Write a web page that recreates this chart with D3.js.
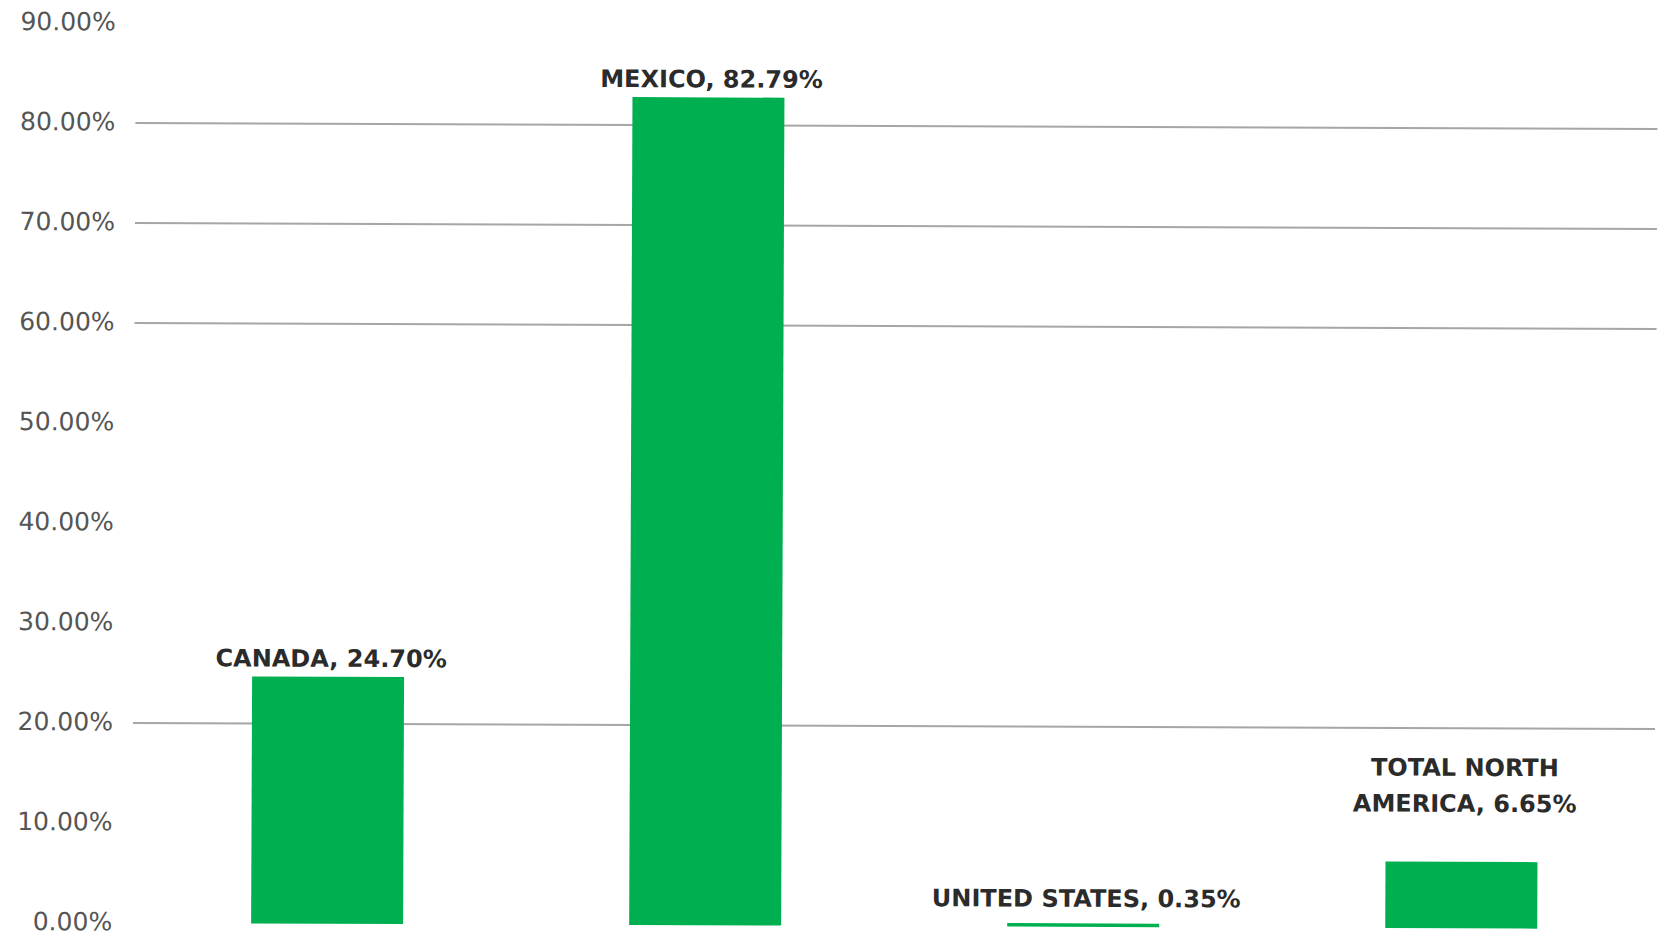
<!DOCTYPE html>
<html>
<head>
<meta charset="utf-8">
<script src="https://cdn.jsdelivr.net/npm/d3@7"></script>
<style>
  html, body { margin: 0; padding: 0; background: #ffffff; }
  svg { display: block; }
</style>
</head>
<body>
<svg id="chart" width="1660" height="935"></svg>
<script>
// Share of each region, as a fraction
const categories = ["CANADA", "MEXICO", "UNITED STATES", "TOTAL NORTH AMERICA"];
const values = [0.2470, 0.8279, 0.0035, 0.0665];
const valueLabels = ["24.70%", "82.79%", "0.35%", "6.65%"];
// Label lines for each bar (long names wrap onto two lines)
const labelLines = [
  ["CANADA, 24.70%"],
  ["MEXICO, 82.79%"],
  ["UNITED STATES, 0.35%"],
  ["TOTAL NORTH", "AMERICA, 6.65%"]
];
const tickValues = [0, 0.1, 0.2, 0.3, 0.4, 0.5, 0.6, 0.7, 0.8, 0.9];
const tickLabels = ["0.00%", "10.00%", "20.00%", "30.00%", "40.00%", "50.00%", "60.00%", "70.00%", "80.00%", "90.00%"];
const gridValues = [0.2, 0.6, 0.7, 0.8];

const W = 1660, H = 935;
const plot = { left: 135, right: 1657, top: 25.8, bottom: 925.8 };

const svg = d3.select("#chart");
// the whole chart sits very slightly tilted
const root = svg.append("g").attr("transform", `rotate(0.23, ${W / 2}, ${H / 2})`);

const x = d3.scaleBand()
  .domain(categories)
  .range([plot.left, plot.right])
  .paddingInner(0.598)
  .paddingOuter(0.312);

const y = d3.scaleLinear()
  .domain([0, 0.9])
  .range([plot.bottom, plot.top]);

// horizontal gridlines
root.append("g")
  .selectAll("line")
  .data(gridValues)
  .join("line")
  .attr("x1", plot.left - 1)
  .attr("x2", plot.right - 1)
  .attr("y1", d => y(d))
  .attr("y2", d => y(d))
  .attr("stroke", "#a6a6a6")
  .attr("stroke-width", 2);

// y axis tick labels
const yAxis = d3.axisLeft(y)
  .tickValues(tickValues)
  .tickFormat((d, i) => tickLabels[i])
  .tickSize(0)
  .tickPadding(0);

const axisG = root.append("g")
  .attr("transform", `translate(114,-1)`)
  .call(yAxis);
axisG.select(".domain").remove();
axisG.selectAll("text")
  .attr("font-family", "'DejaVu Sans', sans-serif")
  .attr("font-size", 25)
  .attr("fill", "#555555");

// bars
root.append("g")
  .selectAll("rect")
  .data(categories)
  .join("rect")
  .attr("x", d => x(d))
  .attr("width", x.bandwidth())
  .attr("y", (d, i) => y(values[i]))
  .attr("height", (d, i) => y(0) - y(values[i]))
  .attr("fill", "#00b050");

// data labels above each bar, never closer than 20px to the baseline
const lineH = 36;
const labelX = d => x(d) + x.bandwidth() / 2 + 3;
const labels = root.append("g")
  .selectAll("text")
  .data(categories)
  .join("text")
  .attr("text-anchor", "middle")
  .attr("font-family", "'DejaVu Sans', sans-serif")
  .attr("font-weight", "bold")
  .attr("font-size", 24)
  .attr("fill", "#2b2b2b")
  .attr("x", labelX)
  .attr("y", (d, i) => {
    const n = labelLines[i].length;
    const lift = n > 1 ? 50 : 10;
    const base = Math.min(y(values[i]) - lift, y(0) - 20);
    return base - (n - 1) * lineH;
  });

labels.selectAll("tspan")
  .data((d, i) => labelLines[i].map(t => ({ t, x: labelX(d) })))
  .join("tspan")
  .attr("x", d => d.x)
  .attr("dy", (d, j) => j === 0 ? 0 : lineH)
  .text(d => d.t);
</script>
</body>
</html>
